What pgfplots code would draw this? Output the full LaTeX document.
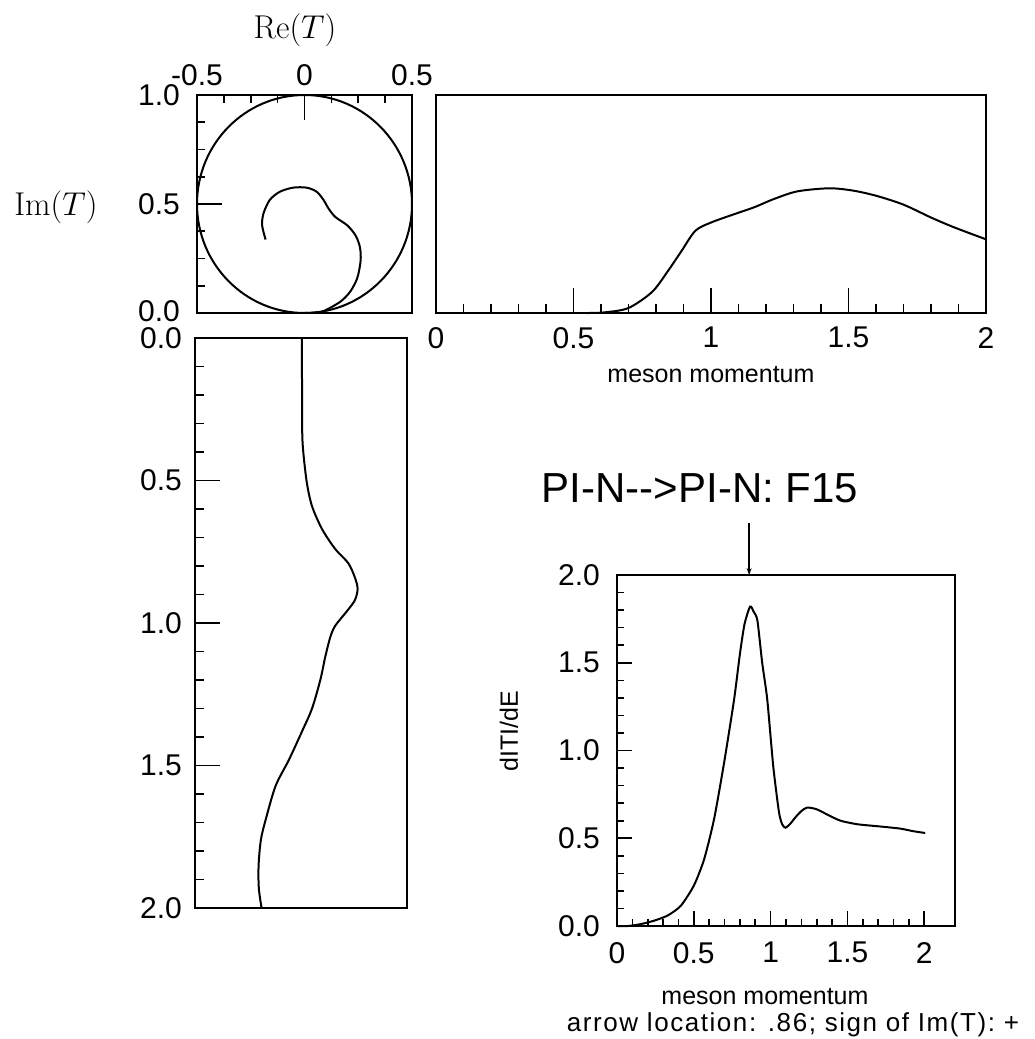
\RequirePackage{fix-cm}
\documentclass[border=0pt]{standalone}
\usepackage[no-math]{fontspec}
\setmainfont{Liberation Sans}
\usepackage{pgfplots}
\pgfplotsset{compat=1.18}
\usetikzlibrary{arrows.meta}

\newcommand\tk{\fontsize{30}{30}\selectfont}
\newcommand\lb{\fontsize{25}{26}\selectfont}

\pgfplotsset{
  panel/.style={scale only axis, anchor=north west, clip=false,
    axis line style={line width=2pt},
    every tick/.style={black, line width=1.6pt},
    tick align=inside,
    major tick length=25pt, minor tick length=9pt,
    ticklabel style={font=\tk, inner sep=0pt},
    /pgf/number format/assume math mode=true,
    xticklabel shift=15pt, yticklabel shift=17pt},
  curve/.style={black, line width=2pt, smooth, tension=0.5}
}

% momentum vs Re(T)
\pgfplotstableread{
p     re
0.00  0.004
0.20  0.005
0.34  0.006
0.41  0.012
0.51  0.028
0.59  0.052
0.67  0.099
0.74  0.161
0.79  0.223
0.84  0.254
0.88  0.267
0.92  0.254
0.96  0.215
1.01  0.161
1.05  0.138
1.12  0.114
1.20  0.091
1.30  0.052
1.38  0.005
1.48 -0.057
1.57 -0.119
1.68 -0.163
1.76 -0.189
1.85 -0.200
1.93 -0.199
2.00 -0.186
}\retab

% momentum vs Im(T)
\pgfplotstableread{
p     im
0.55  0.000
0.614 0.003
0.70  0.023
0.786 0.097
0.843 0.192
0.893 0.285
0.943 0.377
1.00  0.415
1.086 0.454
1.157 0.485
1.229 0.523
1.314 0.558
1.429 0.572
1.514 0.562
1.60  0.538
1.70  0.497
1.80  0.438
1.886 0.392
2.00  0.338
}\imtab

% Argand path
\pgfplotstableread{
re      im
0.000   0.000
0.045   0.002
0.089   0.009
0.167   0.052
0.214   0.100
0.246   0.162
0.261   0.240
0.258   0.301
0.238   0.355
0.199   0.402
0.144   0.440
0.112   0.479
0.089   0.518
0.057   0.556
0.010   0.575
-0.053  0.575
-0.115  0.556
-0.162  0.518
-0.191  0.456
-0.197  0.402
-0.181  0.337
}\argtab

% speed d|T|/dE
\pgfplotstableread{
p     s
0.00  0.000
0.07  0.000
0.15  0.010
0.24  0.030
0.33  0.060
0.415 0.115
0.50  0.230
0.567 0.380
0.632 0.610
0.697 0.930
0.762 1.290
0.80  1.550
0.83  1.720
0.866 1.820
0.89  1.790
0.914 1.740
0.945 1.500
0.978 1.290
1.017 0.910
1.054 0.650
1.075 0.580
1.097 0.560
1.13  0.585
1.162 0.620
1.20  0.655
1.238 0.675
1.30  0.665
1.38  0.630
1.455 0.600
1.563 0.580
1.714 0.567
1.844 0.555
1.93  0.540
2.006 0.530
}\sptab

\begin{document}
\begin{tikzpicture}
\path[use as bounding box] (0,0) rectangle (1034pt,-1039pt);

% Argand diagram
\begin{axis}[panel, at={(197pt,-95pt)}, width=215pt, height=218pt,
  xmin=-0.5, xmax=0.5, ymin=0, ymax=1,
  xtick={-0.5,0,0.5}, xticklabels={-0.5,0,0.5},
  minor xtick={-0.375,-0.25,-0.125,0.125,0.25,0.375},
  ytick={0,0.5,1}, yticklabels={\raisebox{4pt}{0.0},0.5,1.0},
  minor ytick={0.125,0.25,0.375,0.625,0.75,0.875},
  xtick pos=right, xticklabel pos=right, ytick pos=left,
  xticklabel shift=9pt, minor tick length=8pt]
  \draw[line width=2pt] (axis cs:0,0.5) ellipse [x radius=0.5, y radius=0.5];
  \addplot[curve] table[x=re, y=im] {\argtab};
\end{axis}

% Im(T) vs momentum
\begin{axis}[panel, at={(436pt,-95pt)}, width=550pt, height=218pt,
  xmin=0, xmax=2, ymin=0, ymax=1,
  xtick={0,0.5,1,1.5,2}, xticklabels={0,0.5,1,1.5,2},
  minor x tick num=4, ytick=\empty, xtick pos=left,
  xticklabel shift=14pt]
  \addplot[curve] table[x=p, y=im] {\imtab};
\end{axis}

% Re(T) vs momentum (momentum downward)
\begin{axis}[panel, at={(195pt,-338pt)}, width=212pt, height=570pt,
  xmin=-0.5, xmax=0.5, ymin=0, ymax=2, y dir=reverse,
  xtick=\empty, ytick={0,0.5,1,1.5,2},
  yticklabels={0.0,0.5,1.0,1.5,2.0},
  minor y tick num=4, ytick pos=left, yticklabel shift=13pt]
  \addplot[curve] table[x=re, y=p] {\retab};
\end{axis}

% speed plot
\begin{axis}[panel, at={(617pt,-575pt)}, width=338pt, height=351pt,
  xmin=0, xmax=2.2, ymin=0, ymax=2,
  xtick={0,0.5,1,1.5,2}, xticklabels={0,0.5,1,1.5,2},
  ytick={0,0.5,1,1.5,2}, yticklabels={0.0,0.5,1.0,1.5,2.0},
  minor x tick num=4, minor y tick num=4,
  xtick pos=left, ytick pos=left,
  xticklabel shift=16pt,
  major tick length=15pt, minor tick length=7pt]
  \addplot[curve, tension=0.4] table[x=p, y=s] {\sptab};
  \draw[line width=1.6pt, -{Stealth[length=7pt,width=5pt]}]
    (axis cs:0.86,2) ++(0,52pt) -- (axis cs:0.86,2);
\end{axis}

\node[font=\fontsize{33}{33}\selectfont] at (295pt,-30pt) {$\mathrm{Re}(T)$};
\node[font=\fontsize{33}{33}\selectfont] at (56pt,-207pt) {$\mathrm{Im}(T)$};
\node[font=\lb] at (711pt,-375pt) {meson momentum};
\node[font=\fontsize{42}{42}\selectfont, anchor=base] at (700pt,-502pt) {PI-N-{}-{}>PI-N: F15};
\node[font=\lb, rotate=90] at (509pt,-731pt) {dITI/dE};
\node[font=\lb, anchor=base, inner sep=0pt] at (765pt,-1004pt) {meson momentum};
\node[font=\fontsize{26}{26}\selectfont\addfontfeatures{LetterSpace=6}, anchor=base, inner sep=0pt]
  at (793pt,-1031pt) {arrow location: .86; sign of Im(T): +};
\end{tikzpicture}
\end{document}
